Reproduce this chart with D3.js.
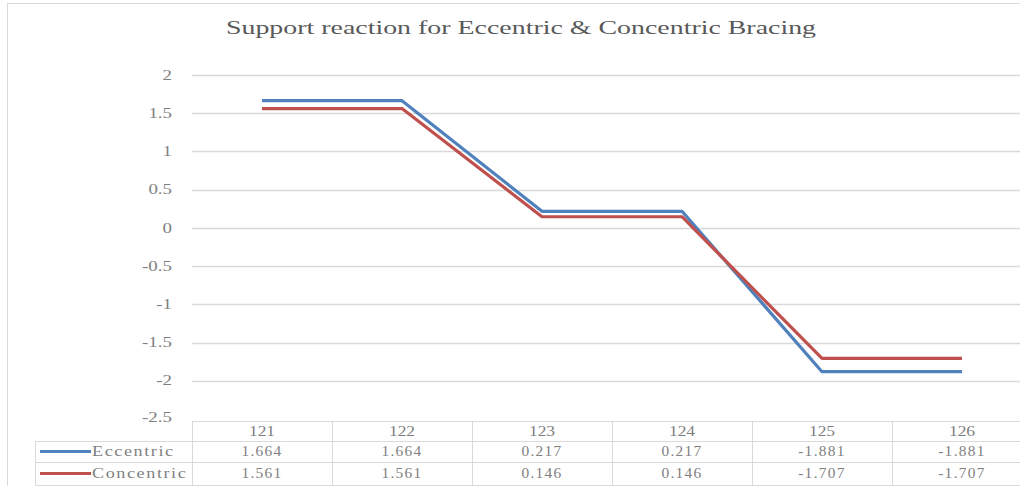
<!DOCTYPE html>
<html>
<head>
<meta charset="utf-8">
<script src="https://cdn.jsdelivr.net/npm/d3@7"></script>
<style>
  body { margin: 0; background: #fff; }
  svg { display: block; }
  text { font-family: "Liberation Serif", "Times New Roman", serif; }
</style>
</head>
<body>
<div id="chart"></div>
<script>
// chart data
const categories = ["121", "122", "123", "124", "125", "126"]
const eccentric = [1.664, 1.664, 0.217, 0.217, -1.881, -1.881]
const concentric = [1.561, 1.561, 0.146, 0.146, -1.707, -1.707]
const yTicks = [2, 1.5, 1, 0.5, 0, -0.5, -1, -1.5, -2, -2.5]
const seriesNames = ["Eccentric", "Concentric"]
const seriesColors = ["#4f81bd", "#c0504d"]

const width = 1020, height = 486
const stretch = 1.4 // the source image is wide, text looks stretched

const svg = d3.select("#chart").append("svg")
    .attr("width", width).attr("height", height)

// outer frame
svg.append("rect")
    .attr("x", 7.5).attr("y", 3.5)
    .attr("width", width + 20).attr("height", height + 20)
    .style("fill", "none").style("stroke", "#d9d9d9")

const x = d3.scaleBand().domain(categories).range([192, 1032]).padding(0)
const y = d3.scaleLinear().domain([-2.5, 2]).range([419, 75])

// stretched text helper, keeps anchor
function stext(g, tx, ty, str, size, anchor, color, sx) {
    return g.append("text")
        .attr("transform", `translate(${tx},${ty}) scale(${sx || stretch},1)`)
        .attr("text-anchor", anchor)
        .attr("dominant-baseline", "central")
        .style("font-size", size + "px")
        .style("fill", color)
        .text(str)
}

// title
stext(svg, 521, 28, "Support reaction for Eccentric & Concentric Bracing", 18, "middle", "#595959", 1.55)

// gridlines
const grid = svg.append("g")
grid.selectAll("line")
    .data(yTicks.filter(d => d > -2.5))
    .enter().append("line")
    .attr("x1", 192).attr("x2", width)
    .attr("y1", d => Math.round(y(d)) + 0.5).attr("y2", d => Math.round(y(d)) + 0.5)
    .style("stroke", "#d9d9d9").style("stroke-width", 1.5)

// y labels
const yl = svg.append("g")
yTicks.forEach(t => {
    stext(yl, 172, y(t) + (t === -2.5 ? -2 : 0), String(t), 14, "end", "#7f7f7f", 1.35)
})

// lines
const line = d3.line()
    .x((d, i) => x(categories[i]) + x.bandwidth() / 2)
    .y(d => y(d))

const allSeries = [eccentric, concentric]
svg.append("g").selectAll("path")
    .data(allSeries)
    .enter().append("path")
    .attr("d", d => line(d))
    .style("fill", "none")
    .style("stroke", (d, i) => seriesColors[i])
    .style("stroke-width", 3.2)
    .style("stroke-linejoin", "round")

// data table
const tbl = svg.append("g")
const rowY = [421, 441, 462, 485]
const bc = "#d9d9d9"

// horizontal lines
tbl.append("line").attr("x1", 192).attr("x2", width).attr("y1", rowY[0] + 0.5).attr("y2", rowY[0] + 0.5)
    .style("stroke", bc)
for (let r = 1; r < rowY.length; r++) {
    tbl.append("line").attr("x1", 35).attr("x2", width).attr("y1", rowY[r] + 0.5).attr("y2", rowY[r] + 0.5)
        .style("stroke", bc)
}
// vertical lines
categories.forEach(c => {
    tbl.append("line").attr("x1", x(c) + 0.5).attr("x2", x(c) + 0.5)
        .attr("y1", rowY[0]).attr("y2", height)
        .style("stroke", bc)
})
tbl.append("line").attr("x1", 35.5).attr("x2", 35.5).attr("y1", rowY[1]).attr("y2", height)
    .style("stroke", bc)

// header
categories.forEach(c => {
    stext(tbl, x(c) + x.bandwidth() / 2, (rowY[0] + rowY[1]) / 2, c, 14, "middle", "#7f7f7f", 1.25)
})

// rows
allSeries.forEach((vals, r) => {
    const cy = (rowY[r + 1] + rowY[r + 2]) / 2
    tbl.append("line")
        .attr("x1", 40).attr("x2", 91)
        .attr("y1", cy).attr("y2", cy)
        .style("stroke", seriesColors[r]).style("stroke-width", 3.2)
    stext(tbl, 92, cy, seriesNames[r], 14, "start", "#7f7f7f", 1.3)
        .style("letter-spacing", "1.2px")
    vals.forEach((v, i) => {
        stext(tbl, x(categories[i]) + x.bandwidth() / 2, cy, String(v), 14, "middle", "#7f7f7f", 1.1)
            .style("letter-spacing", "1.2px")
    })
})
</script>
</body>
</html>
